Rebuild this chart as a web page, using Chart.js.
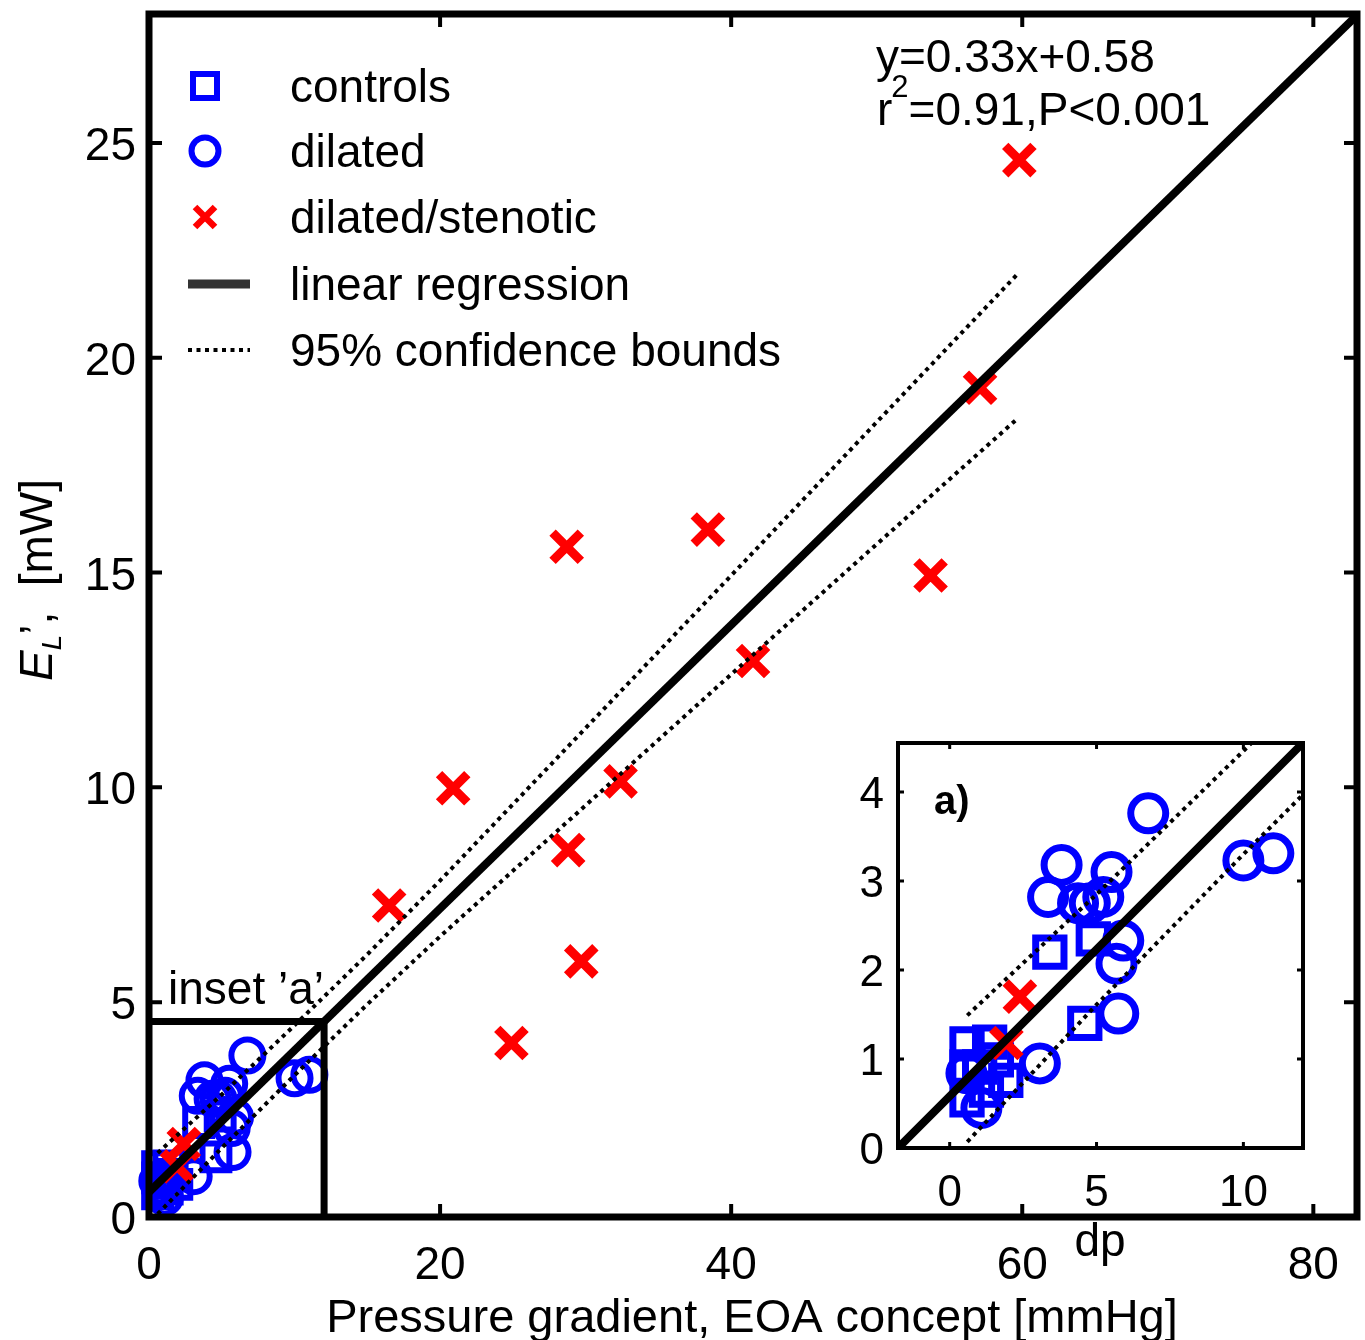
<!DOCTYPE html>
<html>
<head>
<meta charset="utf-8">
<script src="https://cdn.jsdelivr.net/npm/chart.js@4.4.0/dist/chart.umd.min.js"></script>
<style>
  html, body { margin: 0; padding: 0; background: #fff; }
  #wrap { position: relative; width: 1365px; height: 1340px; }
  #mainChart { position: absolute; left: 0; top: 0; }
  #insetChart { position: absolute; left: 840px; top: 700px; }
</style>
</head>
<body>
<div id="wrap">
  <canvas id="mainChart" width="1365" height="1340"></canvas>
  <canvas id="insetChart" width="480" height="580"></canvas>
</div>
<script>
// Data

// controls (blue squares)
let controlsX = [3.41, 4.89, 4.60, 0.59, 1.36, 0.59, 1.59, 1.91, 0.59, 1.25, 1.02];
let controlsY = [2.20, 2.35, 1.40, 1.17, 1.19, 0.91, 0.99, 0.76, 0.54, 0.65, 0.91];

// dilated (blue circles)
let dilatedX = [6.76, 10.0, 11.02, 3.81, 5.51, 3.35, 4.37, 5.23, 4.77, 5.91, 5.68, 5.74, 3.07, 1.08, 0.57];
let dilatedY = [3.76, 3.23, 3.31, 3.18, 3.10, 2.82, 2.75, 2.82, 2.75, 2.33, 2.07, 1.51, 0.95, 0.45, 0.84];

// dilated/stenotic (red crosses)
let stenoticX = [2.39, 1.93, 16.5, 20.9, 24.9, 28.7, 28.8, 29.7, 32.4, 38.4, 41.5, 53.7, 57.1, 59.8];
let stenoticY = [1.70, 1.18, 7.25, 9.98, 4.05, 15.6, 8.54, 5.95, 10.14, 16.0, 12.94, 14.93, 19.3, 24.6];

// linear regression y=0.33x+0.58 (end points)
let regX = [-1.76, 83];
let regY = [0, 27.97];

// 95% confidence bounds
let ciX = [0.6, 5, 10, 15, 20, 30, 40, 50, 59.6];
let ciUpper = [1.49, 2.85, 4.46, 6.11, 7.83, 11.38, 14.93, 18.5, 21.92];
let ciLower = [0.07, 1.61, 3.30, 4.95, 6.53, 9.58, 12.63, 15.66, 18.56];

// rectangle marking inset 'a'
let boxX = [0, 12.03, 12.03];
let boxY = [4.55, 4.55, 0];

// tick labels
let xTicks = [0, 20, 40, 60, 80];
let yTicks = [0, 5, 10, 15, 20, 25];
let insetXTicks = [0, 5, 10];
let insetYTicks = [0, 1, 2, 3, 4];

// legend entries
let legendLabels = ["controls", "dilated", "dilated/stenotic", "linear regression", "95% confidence bounds"];

const FONT = "'Liberation Sans', Arial, sans-serif";
const BLUE = "#0000ff";
const RED = "#ff0000";

function pts(xs, ys) {
  return xs.map((x, i) => ({ x: x, y: ys[i] }));
}

function lineSet(xs, ys, width, dash) {
  return {
    data: pts(xs, ys),
    showLine: true,
    borderColor: "#000",
    borderWidth: width,
    borderDash: dash,
    pointRadius: 0,
    tension: 0,
    clip: 0,
  };
}

function markerSet(xs, ys, style, radius, width, color) {
  return {
    data: pts(xs, ys),
    showLine: false,
    pointStyle: style,
    pointRadius: radius,
    pointBorderWidth: width,
    pointBorderColor: color,
    pointBackgroundColor: "rgba(0,0,0,0)",
    clip: false,
  };
}

// first dataset is drawn on top
function makeDatasets(withBox, big) {
  let sets = [
    lineSet(regX, regY, 8, []),
    lineSet(ciX, ciUpper, 4, [4, 4.5]),
    lineSet(ciX, ciLower, 4, [4, 4.5]),
  ];
  if (withBox) sets.push(lineSet(boxX, boxY, 7, []));
  sets.push(markerSet(stenoticX, stenoticY, "crossRot", 20, 9, RED));
  sets.push(markerSet(dilatedX, dilatedY, "circle", big ? 17.5 : 16, big ? 7 : 6, BLUE));
  sets.push(markerSet(controlsX, controlsY, "rect", big ? 20 : 19, big ? 7 : 6, BLUE));
  return sets;
}

// Frame, ticks, labels and legend of the main plot
const mainDecor = {
  id: "mainDecor",
  afterDatasetsDraw(chart) {
    let ctx = chart.ctx;
    let a = chart.chartArea;
    let x = chart.scales.x;
    let y = chart.scales.y;
    ctx.save();

    // ticks pointing inwards on all four sides
    ctx.strokeStyle = "#000";
    ctx.lineWidth = 4;
    ctx.beginPath();
    xTicks.forEach(v => {
      let px = x.getPixelForValue(v);
      ctx.moveTo(px, a.bottom); ctx.lineTo(px, a.bottom - 13);
      ctx.moveTo(px, a.top); ctx.lineTo(px, a.top + 13);
    });
    yTicks.forEach(v => {
      let py = y.getPixelForValue(v);
      ctx.moveTo(a.left, py); ctx.lineTo(a.left + 13, py);
      ctx.moveTo(a.right, py); ctx.lineTo(a.right - 13, py);
    });
    ctx.stroke();

    // box
    ctx.lineWidth = 7;
    ctx.strokeRect(a.left, a.top, a.right - a.left, a.bottom - a.top);

    // tick labels
    ctx.fillStyle = "#000";
    ctx.font = "46px " + FONT;
    ctx.textBaseline = "alphabetic";
    ctx.textAlign = "center";
    xTicks.forEach(v => ctx.fillText(String(v), x.getPixelForValue(v), 1279));
    ctx.textAlign = "right";
    yTicks.forEach(v => ctx.fillText(String(v), 136, y.getPixelForValue(v) + 17));

    // x axis title
    ctx.textAlign = "center";
    ctx.font = "47px " + FONT;
    ctx.fillText("Pressure gradient, EOA concept [mmHg]", 752, 1332);

    // y axis title: E_L', [mW]
    ctx.save();
    ctx.translate(52, 580);
    ctx.rotate(-Math.PI / 2);
    ctx.textAlign = "left";
    let parts = [
      { t: "E", f: "italic 46px " + FONT, dy: 0 },
      { t: "L", f: "italic 28px " + FONT, dy: 9 },
      { t: "\u2019", f: "46px " + FONT, dy: 0 },
      { t: ",  [mW]", f: "46px " + FONT, dy: 0 },
    ];
    let total = 0;
    parts.forEach(p => { ctx.font = p.f; p.w = ctx.measureText(p.t).width; total += p.w; });
    let cx = -total / 2;
    parts.forEach(p => { ctx.font = p.f; ctx.fillText(p.t, cx, p.dy); cx += p.w; });
    ctx.restore();

    // regression text
    ctx.textAlign = "left";
    ctx.font = "46px " + FONT;
    ctx.fillText("y=0.33x+0.58", 876, 72);
    ctx.fillText("r", 877, 125);
    let rw = ctx.measureText("r").width;
    ctx.font = "31px " + FONT;
    ctx.fillText("2", 876 + rw, 97);
    let sw = ctx.measureText("2").width;
    ctx.font = "46px " + FONT;
    ctx.fillText("=0.91,P<0.001", 876 + rw + sw, 125);

    // inset label
    ctx.font = "46px " + FONT;
    ctx.fillText("inset \u2019a\u2019", 168, 1004);

    // legend
    let rows = [86, 151, 217, 284, 350];
    ctx.font = "46px " + FONT;
    legendLabels.forEach((t, i) => ctx.fillText(t, 290, rows[i] + 16));
    ctx.lineWidth = 6;
    ctx.strokeStyle = BLUE;
    ctx.strokeRect(193, rows[0] - 12, 24, 24);
    ctx.beginPath();
    ctx.arc(205, rows[1], 13.5, 0, Math.PI * 2);
    ctx.stroke();
    ctx.strokeStyle = RED;
    ctx.lineWidth = 6.5;
    ctx.beginPath();
    ctx.moveTo(195, rows[2] - 10); ctx.lineTo(215, rows[2] + 10);
    ctx.moveTo(215, rows[2] - 10); ctx.lineTo(195, rows[2] + 10);
    ctx.stroke();
    ctx.strokeStyle = "#333";
    ctx.lineWidth = 9;
    ctx.beginPath();
    ctx.moveTo(188, rows[3]); ctx.lineTo(250, rows[3]);
    ctx.stroke();
    ctx.strokeStyle = "#000";
    ctx.lineWidth = 4;
    ctx.setLineDash([4, 4.5]);
    ctx.beginPath();
    ctx.moveTo(188, rows[4]); ctx.lineTo(250, rows[4]);
    ctx.stroke();
    ctx.restore();
  },
};

// White background, frame, ticks and labels of the inset
const insetDecor = {
  id: "insetDecor",
  beforeDatasetsDraw(chart) {
    let a = chart.chartArea;
    chart.ctx.save();
    chart.ctx.fillStyle = "#fff";
    chart.ctx.fillRect(a.left, a.top, a.right - a.left, a.bottom - a.top);
    chart.ctx.restore();
  },
  afterDatasetsDraw(chart) {
    let ctx = chart.ctx;
    let a = chart.chartArea;
    let x = chart.scales.x;
    let y = chart.scales.y;
    ctx.save();
    ctx.strokeStyle = "#000";
    ctx.lineWidth = 3;
    ctx.beginPath();
    insetXTicks.forEach(v => {
      let px = x.getPixelForValue(v);
      ctx.moveTo(px, a.bottom); ctx.lineTo(px, a.bottom - 6);
      ctx.moveTo(px, a.top); ctx.lineTo(px, a.top + 6);
    });
    insetYTicks.forEach(v => {
      let py = y.getPixelForValue(v);
      ctx.moveTo(a.left, py); ctx.lineTo(a.left + 6, py);
      ctx.moveTo(a.right, py); ctx.lineTo(a.right - 6, py);
    });
    ctx.stroke();
    ctx.lineWidth = 4;
    ctx.strokeRect(a.left, a.top, a.right - a.left, a.bottom - a.top);

    ctx.fillStyle = "#000";
    ctx.font = "44px " + FONT;
    ctx.textAlign = "center";
    insetXTicks.forEach(v => ctx.fillText(String(v), x.getPixelForValue(v), 506));
    ctx.textAlign = "right";
    insetYTicks.forEach(v => ctx.fillText(String(v), 44, y.getPixelForValue(v) + 16));
    ctx.textAlign = "center";
    ctx.font = "46px " + FONT;
    ctx.fillText("dp", 260, 556);
    ctx.textAlign = "left";
    ctx.font = "bold 40px " + FONT;
    ctx.fillText("a)", 94, 114);
    ctx.restore();
  },
};

Chart.defaults.font.family = FONT;

new Chart(document.getElementById("mainChart"), {
  type: "scatter",
  data: { datasets: makeDatasets(true, false) },
  options: {
    responsive: false,
    animation: false,
    events: [],
    layout: { autoPadding: false, padding: { left: 149, right: 8, top: 14, bottom: 123 } },
    plugins: { legend: { display: false }, tooltip: { enabled: false } },
    scales: {
      x: { type: "linear", min: 0, max: 83, display: false },
      y: { type: "linear", min: 0, max: 28, display: false },
    },
  },
  plugins: [mainDecor],
});

new Chart(document.getElementById("insetChart"), {
  type: "scatter",
  data: { datasets: makeDatasets(false, true) },
  options: {
    responsive: false,
    animation: false,
    events: [],
    layout: { autoPadding: false, padding: { left: 58, right: 17, top: 43, bottom: 132 } },
    plugins: { legend: { display: false }, tooltip: { enabled: false } },
    scales: {
      x: { type: "linear", min: -1.76, max: 12.03, display: false },
      y: { type: "linear", min: 0, max: 4.55, display: false },
    },
  },
  plugins: [insetDecor],
});
</script>
</body>
</html>
